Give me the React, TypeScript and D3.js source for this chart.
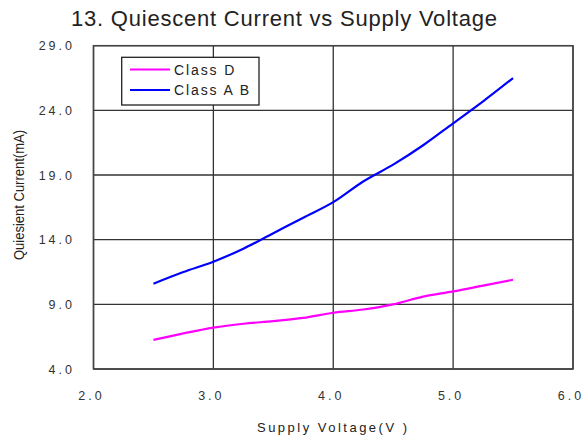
import React from "react";
import * as d3 from "d3";

const voltages = [2.5, 2.75, 3.0, 3.25, 3.5, 3.75, 4.0, 4.25, 4.5, 4.75, 5.0, 5.25, 5.5];
const classD = [6.25, 6.75, 7.2, 7.5, 7.7, 7.95, 8.35, 8.6, 9.0, 9.6, 10.0, 10.45, 10.9];
const classAB = [10.6, 11.5, 12.3, 13.3, 14.5, 15.7, 16.9, 18.5, 19.8, 21.3, 23.0, 24.7, 26.5];
const xTicks = [2, 3, 4, 5, 6];
const yTicks = [4, 9, 14, 19, 24, 29];
const seriesNames = ["Class D", "Class A B"];
const seriesColors = ["#ff00ff", "#0000ff"];

const W = 583;
const H = 442;
const FONT = "'Liberation Sans', Arial, sans-serif";

export default function App() {
  const x = d3.scaleLinear().domain([2, 6]).range([93.5, 573]);
  const y = d3.scaleLinear().domain([4, 29]).range([369, 45.7]);
  const line = d3
    .line<[number, number]>()
    .x((d) => x(d[0]))
    .y((d) => y(d[1]))
    .curve(d3.curveMonotoneX);
  const series = [classD, classAB];

  return (
    <svg
      width={W}
      height={H}
      style={{ position: "absolute", left: 0, top: 0, background: "#fff" }}
      fontFamily={FONT}
    >
      <rect x={0} y={0} width={W} height={H} fill="#fff" />
      <text x={71} y={26} fontSize={22} fill="#222" textLength={426} lengthAdjust="spacing">
        13. Quiescent Current vs Supply Voltage
      </text>
      {/* grid */}
      {xTicks.map((t) => (
        <line key={"gx" + t} x1={x(t)} x2={x(t)} y1={y(29)} y2={y(4)} stroke="#333" strokeWidth={1.3} />
      ))}
      {yTicks.map((t) => (
        <line key={"gy" + t} x1={x(2)} x2={x(6)} y1={y(t)} y2={y(t)} stroke="#333" strokeWidth={1.3} />
      ))}
      <rect x={x(2)} y={y(29)} width={x(6) - x(2)} height={y(4) - y(29)} fill="none" stroke="#444" strokeWidth={1.5} />
      {/* tick labels */}
      {yTicks.map((t) => (
        <text key={"ly" + t} x={75} y={y(t) + 4.5} textAnchor="end" fontSize={12.5} fill="#333" letterSpacing={3}>
          {t.toFixed(1)}
        </text>
      ))}
      {xTicks.map((t) => (
        <text key={"lx" + t} x={x(t) - 2} y={400} textAnchor="middle" fontSize={12.5} fill="#333" letterSpacing={3}>
          {t.toFixed(1)}
        </text>
      ))}
      <text x={257} y={432} fontSize={13} fill="#222" textLength={150} lengthAdjust="spacing">
        Supply Voltage(V )
      </text>
      <text
        transform={`translate(24,195) rotate(-90)`}
        textAnchor="middle"
        fontSize={14}
        fill="#222"
        textLength={130}
        lengthAdjust="spacingAndGlyphs"
      >
        Quiesient Current(mA)
      </text>
      {/* data */}
      {series.map((s, i) => (
        <path
          key={"s" + i}
          d={line(voltages.map((v, j) => [v, s[j]] as [number, number])) || ""}
          fill="none"
          stroke={seriesColors[i]}
          strokeWidth={2.2}
        />
      ))}
      {/* legend */}
      <rect x={121.7} y={57.3} width={137.3} height={47.7} fill="#fff" stroke="#222" strokeWidth={1.3} />
      {seriesNames.map((n, i) => (
        <g key={"lg" + i}>
          <line x1={130} x2={170} y1={69.5 + i * 20.5} y2={69.5 + i * 20.5} stroke={seriesColors[i]} strokeWidth={2.2} />
          <text x={174} y={74.5 + i * 20.5} fontSize={14} fill="#222" letterSpacing={1.9}>
            {n}
          </text>
        </g>
      ))}
    </svg>
  );
}
